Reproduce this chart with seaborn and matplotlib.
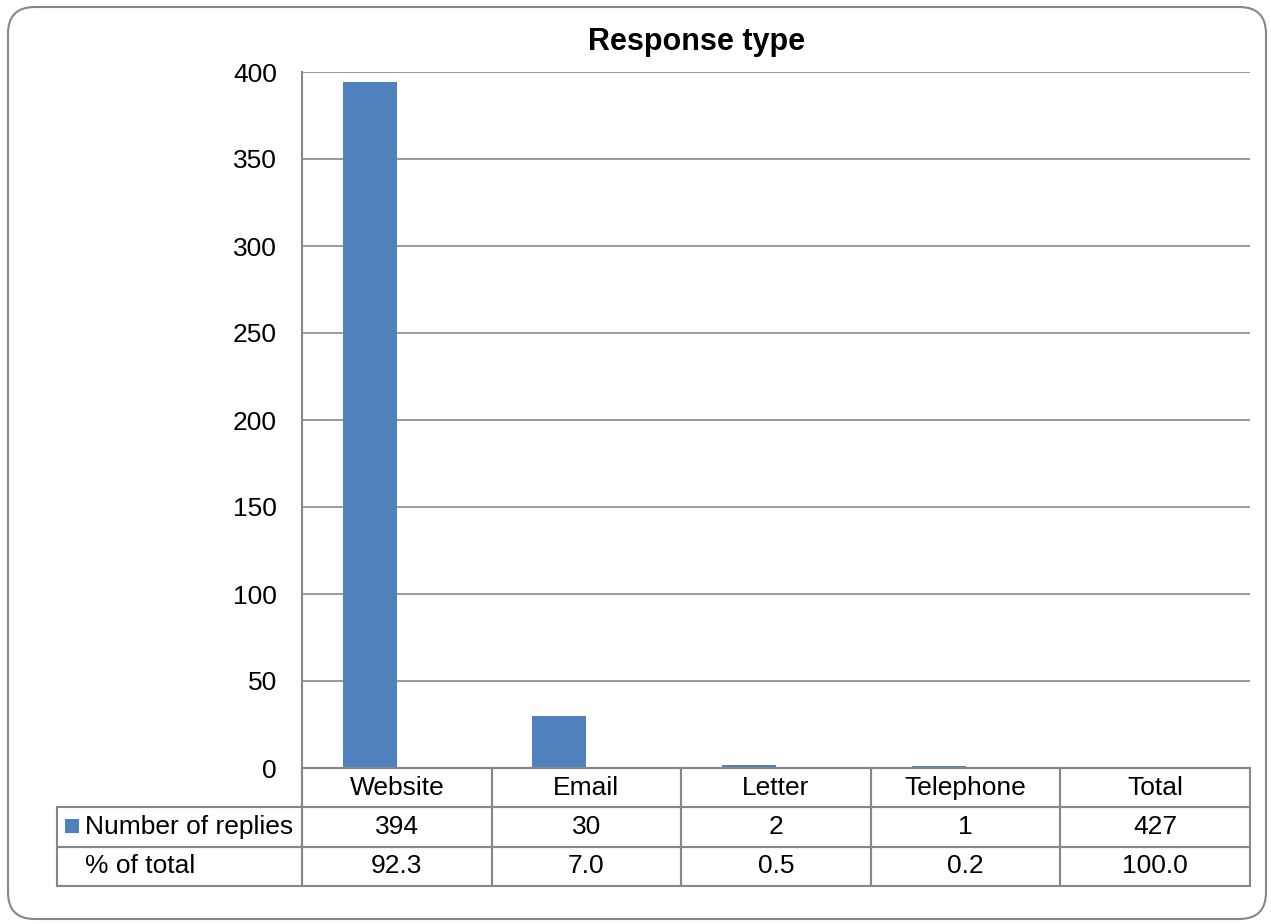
import numpy as np
import pandas as pd
import matplotlib.pyplot as plt
import seaborn as sns
from matplotlib.patches import FancyBboxPatch, Rectangle

# ---------------------------------------------------------------------------
# Data
# ---------------------------------------------------------------------------

categories = ["Website", "Email", "Letter", "Telephone", "Total"]
replies = [394, 30, 2, 1, 427]
pct_total = [92.3, 7.0, 0.5, 0.2, 100.0]
bar_replies = [394, 30, 2, 1, np.nan]  # no bar drawn for the Total column
series_names = ["Number of replies", "% of total"]
y_ticks = [0, 50, 100, 150, 200, 250, 300, 350, 400]

BLUE = "#4F81BD"
GREY = "#878787"

df = pd.DataFrame({
    "category": categories * 2,
    "series": [series_names[0]] * len(categories) + [series_names[1]] * len(categories),
    "value": bar_replies + pct_total,
})

# ---------------------------------------------------------------------------
# Figure
# ---------------------------------------------------------------------------

sns.set_style("white")
plt.rcParams["font.family"] = ["Liberation Sans", "DejaVu Sans"]
plt.rcParams["text.color"] = "black"
plt.rcParams["ytick.color"] = "black"

W, H = 1271, 924
fig = plt.figure(figsize=(W / 100, H / 100), dpi=100)

# rounded chart border (pixel box: x 8..1266, y 7..919 from the top)
fig.patches.append(FancyBboxPatch(
    (8 / W, 5 / H), (1266 - 8) / W, (919 - 7) / H,
    boxstyle="round,pad=0,rounding_size=0.021",
    transform=fig.transFigure, facecolor="none", edgecolor=GREY, linewidth=1.5,
    mutation_aspect=W / H, zorder=-1,
))

left, right, top, bottom = 302, 1250, 72, 768
ax = fig.add_axes([left / W, 1 - bottom / H, (right - left) / W, (bottom - top) / H])
ax.set_facecolor("none")

sns.barplot(data=df, x="category", y="value", hue="series", order=categories,
            hue_order=series_names, palette=[BLUE, BLUE], width=0.57,
            saturation=1, legend=False, ax=ax, errorbar=None)

# the "% of total" series sits in the table only
for bar in ax.containers[1]:
    bar.set_visible(False)
for bar in ax.containers[0]:
    bar.set_edgecolor("none")

ax.set_xlim(-0.5, len(categories) - 0.5)
ax.set_ylim(y_ticks[0], y_ticks[-1])
ax.set_yticks(y_ticks)
ax.set_xticks([])
ax.set_xlabel("")
ax.set_ylabel("")
ax.tick_params(axis="y", length=0, pad=18, labelsize=19)
ax.grid(axis="y", color=GREY, linewidth=1.2)
ax.set_axisbelow(True)
for side in ["top", "right"]:
    ax.spines[side].set_visible(False)
for side in ["left", "bottom"]:
    ax.spines[side].set_color(GREY)
    ax.spines[side].set_linewidth(1.5)

fig.text(697 / W, 1 - 42 / H, "Response type", ha="center", va="center",
         fontsize=22, fontweight="bold")

# ---------------------------------------------------------------------------
# Data table
# ---------------------------------------------------------------------------

cells = [[""] + categories,
         [series_names[0]] + [str(v) for v in replies],
         [series_names[1]] + [f"{v:.1f}" for v in pct_total]]

label_w = (left - 57) / (right - left)
tab_h = (886 - bottom) / (bottom - top)
table = ax.table(cellText=cells, cellLoc="center",
                 colWidths=[label_w] + [1 / len(categories)] * len(categories),
                 bbox=[-label_w, -tab_h, 1 + label_w, tab_h])
table.auto_set_font_size(False)
table.set_fontsize(19)
for (r, c), cell in table.get_celld().items():
    cell.set_edgecolor(GREY)
    cell.set_linewidth(1.5)
    cell.set_facecolor("none")
    if c == 0:
        cell.get_text().set_ha("left")
        cell.PAD = 0.115
table[0, 0].visible_edges = "R"

# legend key in front of the series label
fig.patches.append(Rectangle((65 / W, 1 - 833 / H), 14 / W, 14 / H,
                             transform=fig.transFigure, facecolor=BLUE,
                             edgecolor="none"))

fig.savefig("out.png", dpi=100)
